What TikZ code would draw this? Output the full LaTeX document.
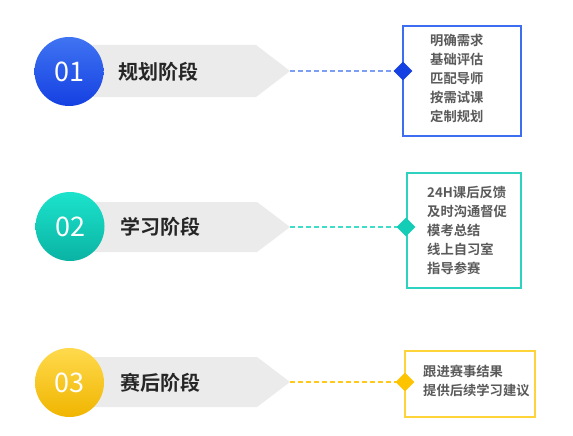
\documentclass[tikz,border=0pt]{standalone}
\usepackage{fontspec}
\setmainfont{Noto Sans CJK SC}[BoldFont={Noto Sans CJK SC Bold}]
\usetikzlibrary{shapes.geometric}
\definecolor{cblueA}{HTML}{3F74F2}
\definecolor{cblueB}{HTML}{1540E2}
\definecolor{ctealA}{HTML}{1CE3CC}
\definecolor{ctealB}{HTML}{0AB3A3}
\definecolor{cyelA}{HTML}{FFDA4D}
\definecolor{cyelB}{HTML}{F0B500}
\definecolor{bandgray}{HTML}{EBEBEB}
\definecolor{bluebox}{HTML}{3D6DF0}
\definecolor{bluedash}{HTML}{7C9EF5}
\definecolor{tealbox}{HTML}{2ED3BF}
\definecolor{tealdash}{HTML}{3FDCC8}
\definecolor{tealdia}{HTML}{13CDB7}
\definecolor{yelbox}{HTML}{FFD43A}
\definecolor{yeldash}{HTML}{FFC81A}
\definecolor{yeldia}{HTML}{FFC400}
\definecolor{txtgray}{HTML}{5A5A5A}
\tikzset{
  numcirc/.style={circle, minimum size=69pt, inner sep=0pt, text=white, font=\fontsize{27}{27}\selectfont},
  stagetxt/.style={anchor=west, inner sep=0pt, font=\fontsize{20}{20}\selectfont\bfseries, text=black!85},
  itemtxt/.style={anchor=north west, inner sep=0pt, align=left, text=txtgray, font=\fontsize{13.3}{19}\selectfont\bfseries},
  dia/.style={diamond, minimum size=19pt, inner sep=0pt},
  conn/.style={dash pattern=on 5pt off 3pt, line width=1.3pt},
  boxnode/.style={rectangle, inner sep=0pt, fill=white}
}
\begin{document}
\begin{tikzpicture}[x=1pt,y=-1pt]
\useasboundingbox (0,0) rectangle (573,436);
\fill[white] (0,0) rectangle (573,436);
% ---------- row 1 ----------
\fill[bandgray] (70,45) -- (256,45) -- (290,71) -- (256,97) -- (70,97) -- cycle;
\coordinate (t1) at (290,71);
\node[numcirc, top color=cblueA, bottom color=cblueB] (c1) at (69,71.5) {01};
\node[stagetxt] (s1) at (118,72) {规划阶段};
\node[boxnode, draw=bluebox, line width=1.3pt, minimum width=118pt, minimum height=110pt] (b1) at (462,81) {};
\node[itemtxt] (i1) at (430,33.5) {明确需求\\基础评估\\匹配导师\\按需试课\\定制规划};
\draw[conn, draw=bluedash] (t1) -- (403,71) coordinate (e1);
\node[dia, fill=cblueB] (d1) at (e1) {};
% ---------- row 2 ----------
\fill[bandgray] (70,202) -- (257,202) -- (290,227) -- (257,252) -- (70,252) -- cycle;
\coordinate (t2) at (290,227);
\node[numcirc, top color=ctealA, bottom color=ctealB] (c2) at (70,226.5) {02};
\node[stagetxt] (s2) at (120,227) {学习阶段};
\node[boxnode, draw=tealbox, line width=1.6pt, minimum width=114pt, minimum height=115pt] (b2) at (464,230.5) {};
\node[itemtxt] (i2) at (427,186.5) {24H课后反馈\\及时沟通督促\\模考总结\\线上自习室\\指导参赛};
\draw[conn, draw=tealdash] (t2) -- (406,227) coordinate (e2);
\node[dia, fill=tealdia] (d2) at (e2) {};
% ---------- row 3 ----------
\fill[bandgray] (70,357) -- (257,357) -- (290,382) -- (257,407) -- (70,407) -- cycle;
\coordinate (t3) at (290,382);
\node[numcirc, top color=cyelA, bottom color=cyelB] (c3) at (69.5,382.5) {03};
\node[stagetxt] (s3) at (120,383) {赛后阶段};
\node[boxnode, draw=yelbox, line width=1.4pt, minimum width=130pt, minimum height=66pt] (b3) at (470,384) {};
\node[itemtxt] (i3) at (423,364.5) {跟进赛事结果\\提供后续学习建议};
\draw[conn, draw=yeldash] (t3) -- (405,382) coordinate (e3);
\node[dia, fill=yeldia] (d3) at (e3) {};
\end{tikzpicture}
\end{document}
